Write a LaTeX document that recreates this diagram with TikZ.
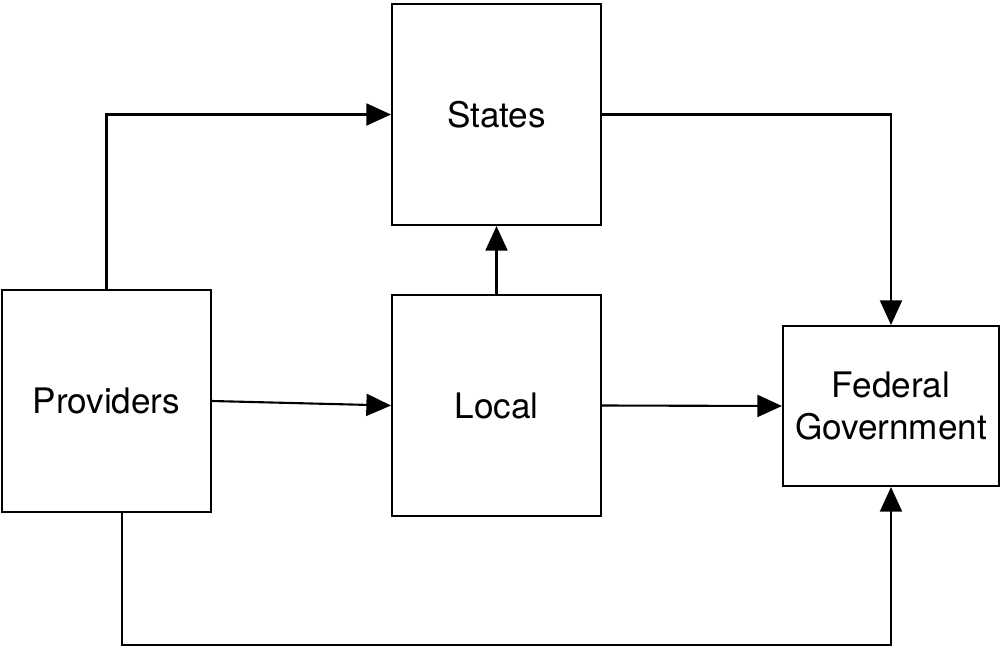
\documentclass[tikz,border=0pt]{standalone}
\usepackage{fontspec}
\setmainfont{TeX Gyre Heros}
\usetikzlibrary{arrows.meta}
\usetikzlibrary{positioning}

\begin{document}
\begin{tikzpicture}[x=0.02cm,y=-0.02cm]
	\useasboundingbox (0,0) rectangle (1001,650);
	\tikzstyle{every node}=[draw,shape=rectangle,line width=1.2pt,align=center,font=\fontsize{20}{23.5}\selectfont];
	\tikzstyle{arr}=[line width=1.2pt,-{Triangle[length=14pt,width=12.5pt]}];
	\path (106.5,401)   node[minimum width=4.18cm,minimum height=4.44cm] (prov) {Providers};
	\path (496.5,114.5) node[minimum width=4.18cm,minimum height=4.42cm] (st) {States};
	\path (496.5,405.5) node[minimum width=4.18cm,minimum height=4.42cm] (loc) {Local};
	\path (891,406)     node[minimum width=4.32cm,minimum height=3.2cm] (fed) {Federal\\Government};
	\coordinate (low) at (122,645);
	\draw[arr] (prov.north) |- (st.west);
	\draw[arr] (st.east) -| (fed.north);
	\draw[arr] (loc.north) -- (st.south);
	\draw[arr] (prov.east) -- (loc.west);
	\draw[arr] (loc.east) -- (fed.west);
	\draw[arr] (prov.south -| low) -- (low) -| (fed.south);
\end{tikzpicture}
\end{document}
